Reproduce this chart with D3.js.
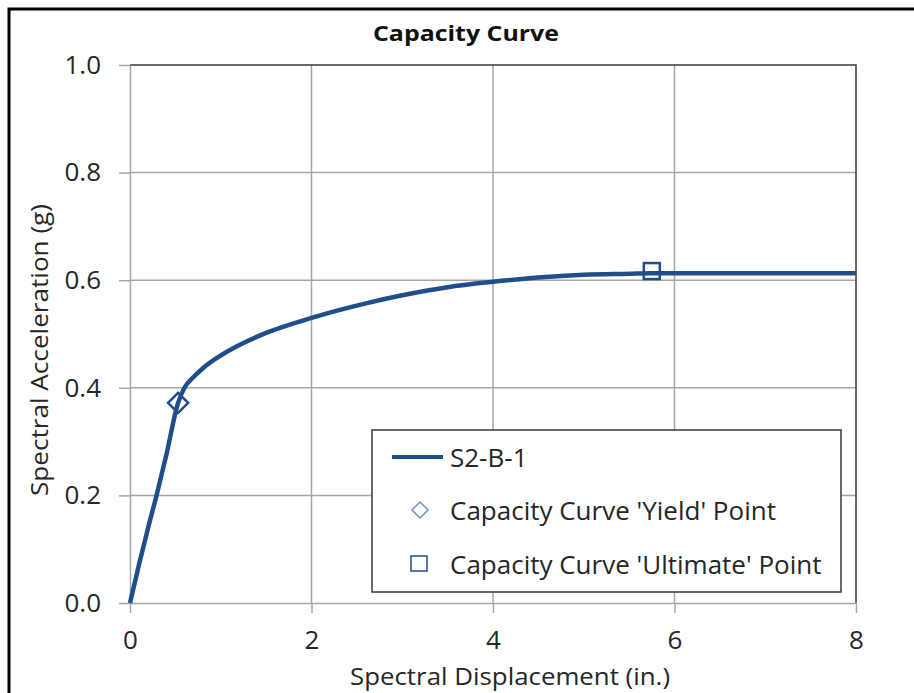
<!DOCTYPE html>
<html>
<head>
<meta charset="utf-8">
<script src="https://cdn.jsdelivr.net/npm/d3@7"></script>
<style>
  html, body { margin: 0; padding: 0; background: #fff; }
  svg { display: block; font-family: "Open Sans", sans-serif; }
</style>
</head>
<body>
<svg id="chart" width="914" height="693"></svg>
<script>
// Capacity curve S2-B-1: spectral displacement (in.) vs spectral acceleration (g)
const displacement = [0, 0.1, 0.2, 0.3, 0.4, 0.53, 0.6, 0.7, 0.8, 1.0, 1.2, 1.5, 2.0, 2.6, 3.0, 3.5, 4.0, 4.5, 5.0, 5.5, 5.75, 8.0];
const acceleration = [0, 0.072, 0.14, 0.205, 0.275, 0.372, 0.4, 0.42, 0.436, 0.46, 0.479, 0.502, 0.53, 0.557, 0.572, 0.587, 0.597, 0.605, 0.61, 0.612, 0.613, 0.613];

const yieldPoint = [0.53, 0.372];
const ultimatePoint = [5.75, 0.617];

const xTicks = [0, 2, 4, 6, 8];
const yTicks = [0, 0.2, 0.4, 0.6, 0.8, 1.0];

const legendLabels = ["S2-B-1", "Capacity Curve 'Yield' Point", "Capacity Curve 'Ultimate' Point"];

const blue = "#1f4e8a";
const grid = "#a6a6a6";
const textColor = "#262626";

const svg = d3.select("#chart");

// outer chart frame
svg.append("rect")
  .attr("x", 9).attr("y", 9)
  .attr("width", 930).attr("height", 720)
  .attr("fill", "#fff").attr("stroke", "#000").attr("stroke-width", 3);

const plot = { left: 130, right: 856, top: 65, bottom: 603 };

const x = d3.scaleLinear().domain([0, 8]).range([plot.left, plot.right]);
const y = d3.scaleLinear().domain([0, 1]).range([plot.bottom, plot.top]);

// gridlines
svg.append("g").selectAll("line").data(xTicks.slice(1, -1)).join("line")
  .attr("x1", d => x(d)).attr("x2", d => x(d))
  .attr("y1", plot.top).attr("y2", plot.bottom)
  .attr("stroke", grid).attr("stroke-width", 1.5);
svg.append("g").selectAll("line").data(yTicks.slice(1, -1)).join("line")
  .attr("x1", plot.left).attr("x2", plot.right)
  .attr("y1", d => y(d)).attr("y2", d => y(d))
  .attr("stroke", grid).attr("stroke-width", 1.5);

// plot area border (top and right)
svg.append("path")
  .attr("d", `M${plot.left},${plot.top}H${plot.right}V${plot.bottom}`)
  .attr("fill", "none").attr("stroke", "#3a3a3a").attr("stroke-width", 1.5);

// axes
const xAxis = svg.append("g")
  .attr("transform", `translate(0,${plot.bottom})`)
  .call(d3.axisBottom(x).tickValues(xTicks).tickFormat(d3.format("d")).tickSizeOuter(0).tickSizeInner(10).tickPadding(18));
const yAxis = svg.append("g")
  .attr("transform", `translate(${plot.left},0)`)
  .call(d3.axisLeft(y).tickValues(yTicks).tickFormat(d3.format(".1f")).tickSizeOuter(0).tickSizeInner(11).tickPadding(18));

[xAxis, yAxis].forEach(g => {
  g.select(".domain").attr("stroke", grid).attr("stroke-width", 1.5);
  g.selectAll(".tick line").attr("stroke", grid).attr("stroke-width", 1.5);
  g.selectAll(".tick text").attr("fill", textColor).style("font-size", "26px").style("font-family", "'Open Sans', sans-serif");
});

// title and axis titles
svg.append("text")
  .attr("x", 466).attr("y", 41)
  .attr("text-anchor", "middle")
  .attr("textLength", 186).attr("lengthAdjust", "spacingAndGlyphs")
  .style("font-size", "22px").style("font-weight", "bold")
  .attr("fill", "#111")
  .text("Capacity Curve");

svg.append("text")
  .attr("x", 510).attr("y", 685)
  .attr("text-anchor", "middle")
  .attr("textLength", 320).attr("lengthAdjust", "spacingAndGlyphs")
  .style("font-size", "23px").attr("fill", textColor)
  .text("Spectral Displacement (in.)");

svg.append("text")
  .attr("transform", "translate(48,350) rotate(-90)")
  .attr("text-anchor", "middle")
  .attr("textLength", 292).attr("lengthAdjust", "spacingAndGlyphs")
  .style("font-size", "23px").attr("fill", textColor)
  .text("Spectral Acceleration (g)");

// capacity curve
const pts = displacement.map((d, i) => [d, acceleration[i]]);
const line = d3.line().x(d => x(d[0])).y(d => y(d[1])).curve(d3.curveMonotoneX);
svg.append("path")
  .datum(pts)
  .attr("d", line)
  .attr("fill", "none").attr("stroke", blue).attr("stroke-width", 4.5)
  .attr("stroke-linejoin", "round");

// yield and ultimate markers
const diamond = (cx, cy, r) => `M${cx},${cy - r}L${cx + r},${cy}L${cx},${cy + r}L${cx - r},${cy}Z`;
svg.append("path")
  .attr("d", diamond(x(yieldPoint[0]), y(yieldPoint[1]), 10))
  .attr("fill", "none").attr("stroke", blue).attr("stroke-width", 2.5);
svg.append("rect")
  .attr("x", x(ultimatePoint[0]) - 8).attr("y", y(ultimatePoint[1]) - 8)
  .attr("width", 16).attr("height", 16)
  .attr("fill", "none").attr("stroke", blue).attr("stroke-width", 2.5);

// legend
const lg = svg.append("g");
lg.append("rect")
  .attr("x", 372).attr("y", 430).attr("width", 469).attr("height", 162)
  .attr("fill", "#fff").attr("stroke", "#3a3a3a").attr("stroke-width", 1.5);
const rows = [457, 510, 564];
lg.append("line")
  .attr("x1", 392).attr("x2", 443).attr("y1", rows[0]).attr("y2", rows[0])
  .attr("stroke", blue).attr("stroke-width", 4);
lg.append("path")
  .attr("d", diamond(420, rows[1], 8))
  .attr("fill", "none").attr("stroke", "#7090c0").attr("stroke-width", 1.5);
lg.append("rect")
  .attr("x", 411).attr("y", rows[2] - 8).attr("width", 16).attr("height", 15)
  .attr("fill", "none").attr("stroke", blue).attr("stroke-width", 1.5);
lg.selectAll("text.lbl").data(legendLabels).join("text")
  .attr("class", "lbl")
  .attr("x", 450).attr("y", (d, i) => rows[i] + 10)
  .style("font-size", "26px").attr("fill", textColor)
  .text(d => d);
</script>
</body>
</html>
